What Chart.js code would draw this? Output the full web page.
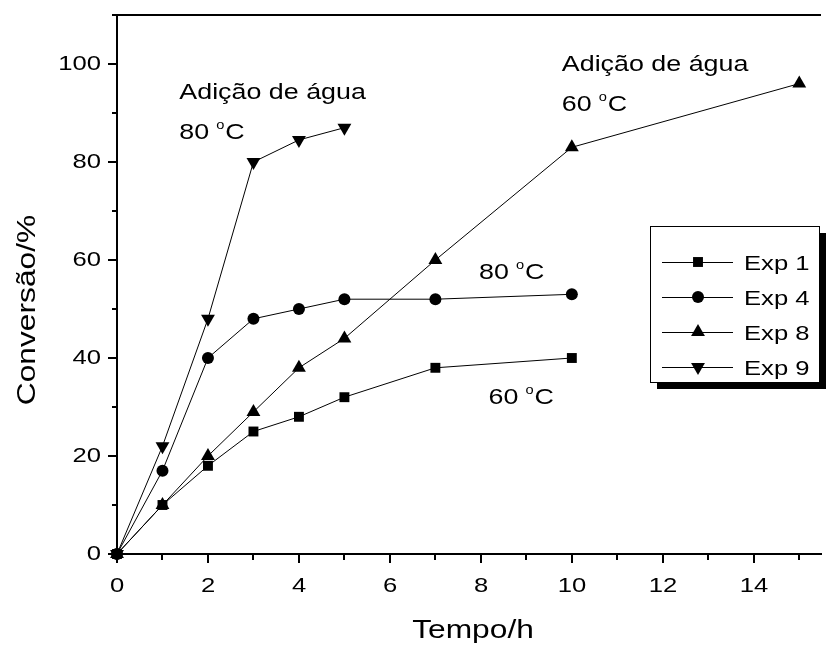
<!DOCTYPE html>
<html>
<head>
<meta charset="utf-8">
<script src="https://cdn.jsdelivr.net/npm/chart.js@4.4.0/dist/chart.umd.min.js"></script>
<style>
  html, body { margin: 0; padding: 0; background: #fff; }
  #caixa { width: 829px; height: 646px; }
</style>
</head>
<body>
<div id="caixa"><canvas id="grafico"></canvas></div>
<script>
// dados
const tempoExp1 = [0, 1, 2, 3, 4, 5, 7, 10];
const convExp1 = [0, 10, 18, 25, 28, 32, 38, 40];
const tempoExp4 = [0, 1, 2, 3, 4, 5, 7, 10];
const convExp4 = [0, 17, 40, 48, 50, 52, 52, 53];
const tempoExp8 = [0, 1, 2, 3, 4, 5, 7, 10, 15];
const convExp8 = [0, 10, 20, 29, 38, 44, 60, 83, 96];
const tempoExp9 = [0, 1, 2, 3, 4, 5];
const convExp9 = [0, 22, 48, 80, 84.5, 87];
const nomes = ["Exp 1", "Exp 4", "Exp 8", "Exp 9"];
const rotulosX = [0, 2, 4, 6, 8, 10, 12, 14];
const rotulosY = [0, 20, 40, 60, 80, 100];

// textos dentro do gráfico (posição em unidades dos eixos)
const notas = [
  { texto: "Adição de água", x: 1.37, y: 92.9 },
  { temp: "80", x: 1.37, y: 84.7 },
  { texto: "Adição de água", x: 9.78, y: 98.6 },
  { temp: "60", x: 9.78, y: 90.4 },
  { temp: "80", x: 7.96, y: 56.1 },
  { temp: "60", x: 8.17, y: 30.6 }
];

const pares = (xs, ys) => xs.map((v, i) => ({ x: v, y: ys[i] }));
const fonte = "'Liberation Sans', Arial, sans-serif";
const esticar = 1.22; // texto do original é mais largo que o Arial

const estilos = [
  { pointStyle: "rect", pointRadius: 7, rotation: 0 },
  { pointStyle: "circle", pointRadius: 6, rotation: 0 },
  { pointStyle: "triangle", pointRadius: 8, rotation: 0 },
  { pointStyle: "triangle", pointRadius: 8, rotation: 180 }
];
const series = [pares(tempoExp1, convExp1), pares(tempoExp4, convExp4), pares(tempoExp8, convExp8), pares(tempoExp9, convExp9)];

function escreve(ctx, txt, x, y, tam, align, rot) {
  ctx.save();
  ctx.translate(x, y);
  if (rot) ctx.rotate(rot);
  ctx.scale(esticar, 1);
  ctx.font = tam + "px " + fonte;
  ctx.textAlign = align || "left";
  ctx.textBaseline = "alphabetic";
  ctx.fillText(txt, 0, 0);
  ctx.restore();
}

const extras = {
  id: "extras",
  afterDraw(chart) {
    const { ctx, chartArea: a, scales: { x, y } } = chart;
    ctx.save();
    ctx.strokeStyle = "#000";
    ctx.fillStyle = "#000";

    // linha de cima
    ctx.lineWidth = 2;
    ctx.beginPath();
    ctx.moveTo(a.left - 1, a.top);
    ctx.lineTo(a.right, a.top);
    ctx.stroke();

    // marcas e rótulos dos eixos
    ctx.beginPath();
    x.ticks.forEach(t => {
      const px = Math.round(x.getPixelForValue(t.value));
      const maior = rotulosX.includes(t.value);
      ctx.moveTo(px, a.bottom);
      ctx.lineTo(px, a.bottom + (maior ? 9 : 6));
      if (maior) escreve(ctx, String(t.value), px, a.bottom + 38, 21, "center");
    });
    y.ticks.forEach(t => {
      const py = Math.round(y.getPixelForValue(t.value));
      const maior = rotulosY.includes(t.value);
      ctx.moveTo(a.left, py);
      ctx.lineTo(a.left - (maior ? 9 : 5), py);
      if (maior) escreve(ctx, String(t.value), a.left - 16, py + 6, 21, "right");
    });
    ctx.stroke();

    // títulos dos eixos
    escreve(ctx, "Tempo/h", (a.left + a.right) / 2 + 4, 638, 26, "center");
    escreve(ctx, "Conversão/%", 35, 310, 26, "center", -Math.PI / 2);

    // anotações
    notas.forEach(n => {
      const px = x.getPixelForValue(n.x);
      const py = y.getPixelForValue(n.y);
      if (n.texto) {
        escreve(ctx, n.texto, px, py, 22);
      } else {
        escreve(ctx, n.temp, px, py, 22);
        escreve(ctx, "o", px + 37, py - 10, 12);
        escreve(ctx, "C", px + 46, py, 22);
      }
    });

    // legenda
    const lx = a.left + 533, ly = 226, lw = 169, lh = 156;
    ctx.fillRect(lx + 7, ly + 7, lw, lh);
    ctx.fillStyle = "#fff";
    ctx.fillRect(lx, ly, lw, lh);
    ctx.lineWidth = 1;
    ctx.strokeRect(lx + 0.5, ly + 0.5, lw, lh);
    ctx.fillStyle = "#000";
    nomes.forEach((nome, i) => {
      const ry = ly + 36 + i * 35;
      ctx.beginPath();
      ctx.moveTo(lx + 12, ry + 0.5);
      ctx.lineTo(lx + 83, ry + 0.5);
      ctx.stroke();
      Chart.helpers.drawPoint(ctx, {
        pointStyle: estilos[i].pointStyle,
        radius: estilos[i].pointRadius,
        rotation: estilos[i].rotation,
        borderWidth: 0
      }, lx + 48, ry);
      escreve(ctx, nome, lx + 94, ry + 8, 21);
    });
    ctx.restore();
  }
};

new Chart(document.getElementById("grafico"), {
  type: "line",
  data: {
    datasets: nomes.map((nome, i) => ({
      label: nome,
      data: series[i],
      borderColor: "#000",
      backgroundColor: "#000",
      borderWidth: 1,
      pointStyle: estilos[i].pointStyle,
      pointRadius: estilos[i].pointRadius,
      pointRotation: estilos[i].rotation,
      pointBorderWidth: 0,
      pointBackgroundColor: "#000",
      tension: 0,
      clip: false
    }))
  },
  options: {
    responsive: true,
    maintainAspectRatio: false,
    animation: false,
    events: [],
    layout: { padding: { top: 15, right: 0, left: 0, bottom: 0 } },
    plugins: { legend: { display: false }, tooltip: { enabled: false } },
    scales: {
      x: {
        type: "linear",
        min: 0,
        max: 15.478,
        afterFit: s => { s.height = 92; },
        afterBuildTicks: s => { s.ticks = Array.from({ length: 16 }, (_, i) => ({ value: i })); },
        grid: { display: false, drawTicks: false },
        border: { display: true, color: "#000", width: 2 },
        ticks: { display: false }
      },
      y: {
        type: "linear",
        min: 0,
        max: 110,
        afterFit: s => { s.width = 117; },
        afterBuildTicks: s => { s.ticks = Array.from({ length: 12 }, (_, i) => ({ value: i * 10 })); },
        grid: { display: false, drawTicks: false },
        border: { display: true, color: "#000", width: 2 },
        ticks: { display: false }
      }
    }
  },
  plugins: [extras]
});
</script>
</body>
</html>
